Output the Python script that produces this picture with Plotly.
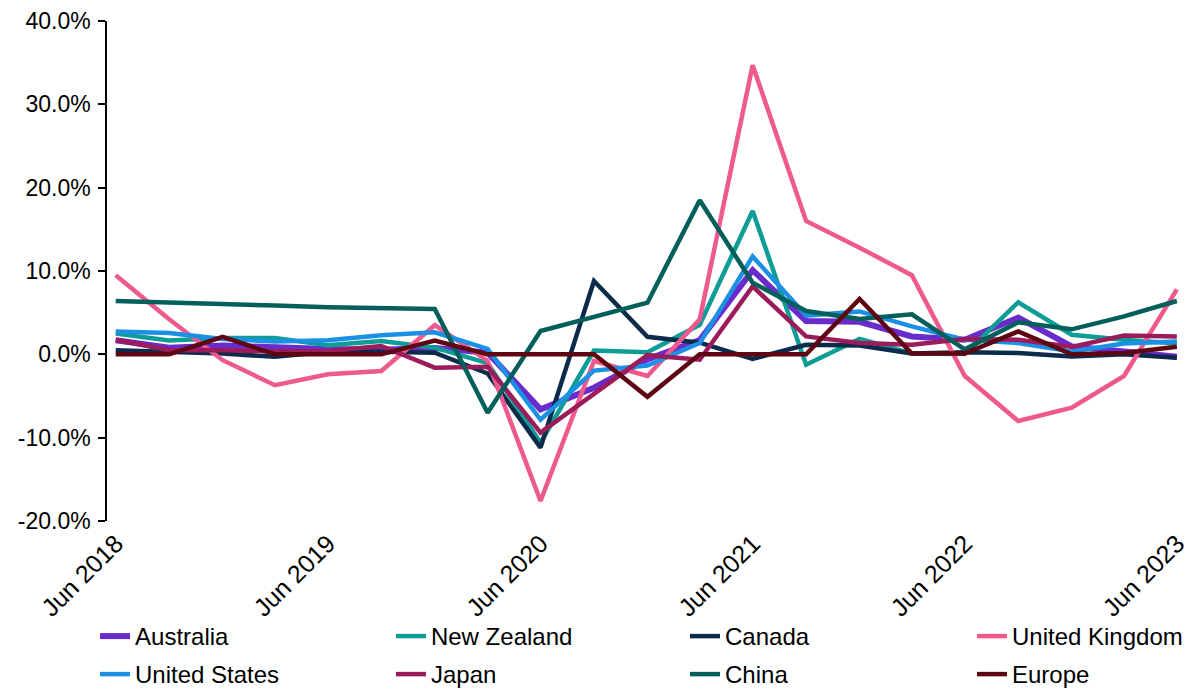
import plotly.graph_objects as go

# Quarter-end observation dates
quarters = [
    "2018-06-30", "2018-09-30", "2018-12-31", "2019-03-31",
    "2019-06-30", "2019-09-30", "2019-12-31", "2020-03-31",
    "2020-06-30", "2020-09-30", "2020-12-31", "2021-03-31",
    "2021-06-30", "2021-09-30", "2021-12-31", "2022-03-31",
    "2022-06-30", "2022-09-30", "2022-12-31", "2023-03-31",
    "2023-06-30",
]

# Quarterly change, %
australia = [1.7, 0.8, 1.05, 0.8, 0.65, 0.55, 0.75, 0.2, -6.6, -4.0, -0.6, 1.7,
             10.1, 4.0, 3.9, 2.15, 1.75, 4.4, 0.95, 0.35, -0.3]
new_zealand = [2.5, 1.65, 1.95, 1.95, 1.1, 1.6, 0.8, -1.05, -10.6, 0.45, 0.25, 3.55,
               17.2, -1.25, 1.85, 0.1, 0.05, 6.25, 2.35, 1.75, 1.3]
canada = [0.5, 0.3, 0.1, -0.3, 0.3, 0.3, 0.2, -2.3, -11.2, 8.8, 2.1, 1.4,
          -0.55, 1.15, 1.05, 0.1, 0.25, 0.15, -0.25, 0.0, -0.4]
united_kingdom = [9.5, 4.2, -0.7, -3.7, -2.4, -2.0, 3.5, -0.8, -17.6, -0.8, -2.6, 4.2,
                  34.7, 16.0, 12.8, 9.5, -2.6, -8.0, -6.4, -2.6, 7.8]
united_states = [2.75, 2.55, 1.85, 1.55, 1.7, 2.3, 2.65, 0.65, -7.85, -1.95, -1.35, 1.35,
                 11.75, 4.65, 5.15, 3.35, 1.75, 1.35, 0.35, 1.3, 1.55]
japan = [1.75, 0.5, 0.5, 0.35, 0.4, 1.0, -1.6, -1.5, -9.4, -4.7, -0.1, -0.65,
         8.15, 2.15, 1.35, 1.15, 1.85, 1.75, 0.9, 2.25, 2.15]
china = [6.4, 6.25, 6.05, 5.85, 5.65, 5.55, 5.45, -7.0, 2.8, 4.5, 6.2, 18.5,
         8.6, 5.2, 4.25, 4.8, 0.6, 3.85, 3.0, 4.55, 6.4]
europe = [0.0, 0.0, 2.1, 0.0, 0.0, 0.0, 1.65, 0.0, 0.0, 0.0, -5.1, 0.0,
          0.0, 0.0, 6.65, 0.1, 0.1, 2.75, 0.0, 0.15, 0.9]

# Axis ticks
x_tick_dates = ["2018-06-15", "2019-06-15", "2020-06-15", "2021-06-15",
                "2022-06-15", "2023-06-15"]
x_tick_labels = ["Jun 2018", "Jun 2019", "Jun 2020", "Jun 2021", "Jun 2022", "Jun 2023"]
y_tick_values = [-20, -10, 0, 10, 20, 30, 40]
y_tick_labels = ["-20.0%", "-10.0%", "0.0%", "10.0%", "20.0%", "30.0%", "40.0%"]

FONT = "Liberation Sans, Arial, sans-serif"

# name, values, colour, line width, legend column, legend row
series = [
    ("Australia", australia, "#6A2BCB", 6, 0, 0),
    ("New Zealand", new_zealand, "#0E9C96", 4.5, 1, 0),
    ("Canada", canada, "#0C2B4B", 4.5, 2, 0),
    ("United Kingdom", united_kingdom, "#EE5A8E", 4.5, 3, 0),
    ("United States", united_states, "#1B91E5", 4.5, 0, 1),
    ("Japan", japan, "#9C1C5B", 4.5, 1, 1),
    ("China", china, "#025F5A", 4.5, 2, 1),
    ("Europe", europe, "#5E0611", 4.5, 3, 1),
]

# legend grid: left edge of each column and vertical centre of each row (paper units)
legend_col_x = [-0.0111, 0.2634, 0.5362, 0.8024]
legend_row_y = [-0.231, -0.307]

fig = go.Figure()
layout_legends = {}
for i, (name, values, color, width, col, row) in enumerate(series):
    key = "legend" if i == 0 else f"legend{i + 1}"
    fig.add_trace(go.Scatter(
        x=quarters, y=values, mode="lines", name=name,
        line=dict(color=color, width=width),
        legend=key,
    ))
    layout_legends[key] = dict(
        orientation="h",
        xanchor="left",
        yanchor="middle",
        x=legend_col_x[col],
        y=legend_row_y[row],
        font=dict(family=FONT, size=24, color="black"),
        bgcolor="rgba(0,0,0,0)",
        itemclick=False,
    )

fig.update_layout(
    width=1191,
    height=690,
    margin=dict(l=107, r=6, t=21, b=169, autoexpand=False),
    paper_bgcolor="white",
    plot_bgcolor="white",
    font=dict(family=FONT, size=24, color="black"),
    showlegend=True,
    xaxis=dict(
        type="date",
        range=["2018-06-15", "2023-07-14"],
        tickvals=x_tick_dates,
        ticktext=x_tick_labels,
        tickangle=-45,
        tickfont=dict(family=FONT, size=25, color="black"),
        ticklabelstandoff=2,
        ticklabelshift=9,
        showline=False,
        showgrid=False,
        zeroline=False,
        ticks="",
        automargin=False,
    ),
    # axis line drawn through the zero value, with year ticks hanging below it
    xaxis2=dict(
        type="date",
        matches="x",
        overlaying="x",
        anchor="free",
        position=1 / 3,
        tickvals=x_tick_dates,
        showticklabels=False,
        showline=True,
        linecolor="black",
        linewidth=1.5,
        ticks="outside",
        ticklen=6,
        tickwidth=1.5,
        tickcolor="black",
        showgrid=False,
        zeroline=False,
    ),
    yaxis=dict(
        range=[-20, 40],
        tickvals=y_tick_values,
        ticktext=y_tick_labels,
        tickfont=dict(family=FONT, size=23, color="black"),
        ticklabelstandoff=3,
        showline=True,
        linecolor="black",
        linewidth=1.5,
        ticks="outside",
        ticklen=7,
        tickwidth=1.5,
        tickcolor="black",
        showgrid=False,
        zeroline=False,
        automargin=False,
    ),
    **layout_legends,
)

fig.write_html("out.html")
